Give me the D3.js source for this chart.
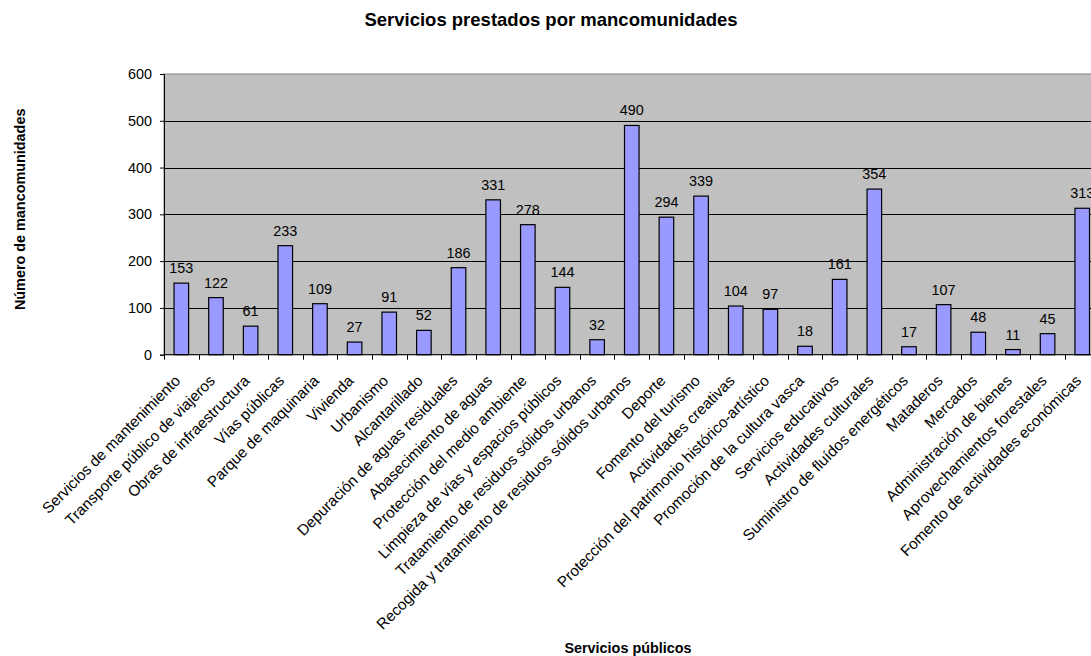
<!DOCTYPE html>
<html>
<head>
<meta charset="utf-8">
<script src="https://cdn.jsdelivr.net/npm/d3@7"></script>
<style>
  html, body { margin: 0; padding: 0; background: #fff; }
  svg { display: block; font-family: Arial, "Liberation Sans", sans-serif; }
</style>
</head>
<body>
<svg id="chart" width="1091" height="656"></svg>
<script>
const categories = [
  "Servicios de mantenimiento",
  "Transporte público de viajeros",
  "Obras de infraestructura",
  "Vías públicas",
  "Parque de maquinaria",
  "Vivienda",
  "Urbanismo",
  "Alcantarillado",
  "Depuración de aguas residuales",
  "Abasecimiento de aguas",
  "Protección del medio ambiente",
  "Limpieza de vías y espacios públicos",
  "Tratamiento de residuos sólidos urbanos",
  "Recogida y tratamiento de residuos sólidos urbanos",
  "Deporte",
  "Fomento del turismo",
  "Actividades creativas",
  "Protección del patrimonio histórico-artístico",
  "Promoción de la cultura vasca",
  "Servicios educativos",
  "Actividades culturales",
  "Suministro de fluídos energéticos",
  "Mataderos",
  "Mercados",
  "Administración de bienes",
  "Aprovechamientos forestales",
  "Fomento de actividades económicas"
];
const values = [153, 122, 61, 233, 109, 27, 91, 52, 186, 331, 278, 144, 32, 490, 294, 339, 104, 97, 18, 161, 354, 17, 107, 48, 11, 45, 313];
const yTicks = [0, 100, 200, 300, 400, 500, 600];
const chartTitle = "Servicios prestados por mancomunidades";
const xTitle = "Servicios públicos";
const yTitle = "Número de mancomunidades";

(function () {
const svg = d3.select("#chart");
const pLeft = 164, pTop = 74, pBottom = 354.7, step = 34.65;
const pRight = pLeft + step * categories.length;

const x = d3.scaleBand().domain(categories).range([pLeft, pRight]).padding(0);
const y = d3.scaleLinear().domain([0, 600]).range([pBottom, pTop]);

// plot background
svg.append("rect")
  .attr("x", pLeft).attr("y", y(600))
  .attr("width", pRight - pLeft).attr("height", y(0) - y(600))
  .attr("fill", "#C0C0C0")
  .attr("stroke", "#808080").attr("stroke-width", 1);

// gridlines
svg.append("g").selectAll("line")
  .data(yTicks.filter(t => t > 0 && t < 600))
  .join("line")
  .attr("x1", pLeft).attr("x2", pRight)
  .attr("y1", d => Math.round(y(d)) + 0.5).attr("y2", d => Math.round(y(d)) + 0.5)
  .attr("stroke", "#000").attr("stroke-width", 1);

// y axis
const yAxis = d3.axisLeft(y).tickValues(yTicks).tickSize(4).tickPadding(8);
const gy = svg.append("g").attr("transform", `translate(${pLeft},0)`).call(yAxis);
gy.select(".domain").attr("stroke", "#000");
gy.selectAll(".tick line").attr("stroke", "#000");
gy.selectAll(".tick text").attr("font-size", "14.4px").attr("fill", "#000")
  .attr("font-family", "Arial, 'Liberation Sans', sans-serif");

// bars
const bw = x.bandwidth() * 0.42;
svg.append("g").selectAll("rect")
  .data(values)
  .join("rect")
  .attr("x", (d, i) => x(categories[i]) + (x.bandwidth() - bw) / 2)
  .attr("y", d => y(d))
  .attr("width", bw)
  .attr("height", d => y(0) - y(d))
  .attr("fill", "#9999FF")
  .attr("stroke", "#000").attr("stroke-width", 1.2);

// data labels
svg.append("g").selectAll("text")
  .data(values)
  .join("text")
  .attr("x", (d, i) => x(categories[i]) + x.bandwidth() / 2)
  .attr("y", d => y(d) - 10)
  .attr("text-anchor", "middle")
  .attr("font-size", "14.4px")
  .attr("fill", "#000")
  .text(d => d);

// x axis line and ticks between categories
svg.append("line")
  .attr("x1", pLeft).attr("x2", pRight)
  .attr("y1", y(0)).attr("y2", y(0))
  .attr("stroke", "#000").attr("stroke-width", 1);
const boundaries = categories.map(c => x(c)).concat([pRight]);
svg.append("g").selectAll("line")
  .data(boundaries)
  .join("line")
  .attr("x1", d => Math.round(d) + 0.5).attr("x2", d => Math.round(d) + 0.5)
  .attr("y1", y(0)).attr("y2", y(0) + 5)
  .attr("stroke", "#000");

// category labels rotated
svg.append("g").selectAll("text")
  .data(categories)
  .join("text")
  .attr("transform", d => `translate(${x(d) + x.bandwidth() / 2},${y(0) + 27}) rotate(-45)`)
  .attr("text-anchor", "end")
  .attr("font-size", "15.3px")
  .attr("fill", "#000")
  .text(d => d);

// title
svg.append("text")
  .attr("x", 551).attr("y", 26)
  .attr("text-anchor", "middle")
  .attr("font-size", "18.5px").attr("font-weight", "bold")
  .attr("fill", "#000")
  .text(chartTitle);

// y axis title
svg.append("text")
  .attr("transform", `translate(25,${(pTop + pBottom) / 2 - 5}) rotate(-90)`)
  .attr("text-anchor", "middle")
  .attr("font-size", "14.4px").attr("font-weight", "bold")
  .attr("fill", "#000")
  .text(yTitle);

// x axis title
svg.append("text")
  .attr("x", 628).attr("y", 653)
  .attr("text-anchor", "middle")
  .attr("font-size", "14.4px").attr("font-weight", "bold")
  .attr("fill", "#000")
  .text(xTitle);
})();
</script>
</body>
</html>
